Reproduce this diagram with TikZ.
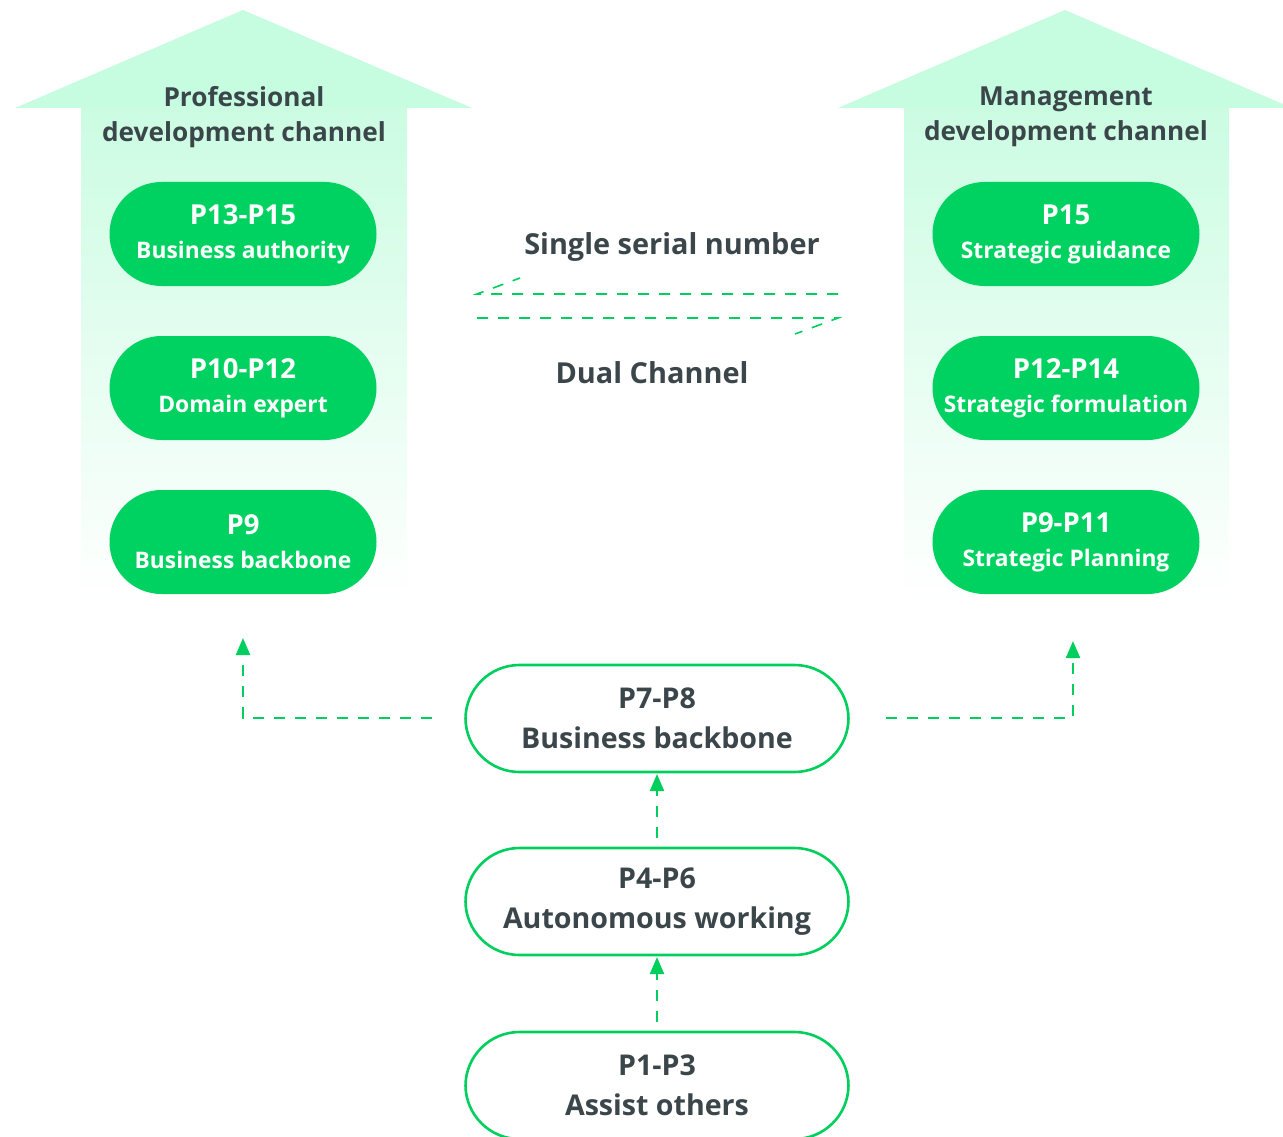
\documentclass[tikz,border=0pt]{standalone}
\usepackage{fontspec}
\setmainfont{Open Sans}
\usetikzlibrary{arrows.meta}
\definecolor{mint}{HTML}{C6FCDF}
\definecolor{mintshaft}{HTML}{CBFCE2}
\definecolor{pillgreen}{HTML}{00D261}
\definecolor{linegreen}{HTML}{00CF5E}
\definecolor{inkgray}{HTML}{3B464B}
\tikzset{
  x=1pt, y=-1pt,
  fillpill/.style={rectangle, rounded corners=52pt, fill=pillgreen, text=white,
    minimum width=267pt, minimum height=104pt, align=center, inner sep=0pt,
    font=\bfseries\fontsize{22.8}{34}\selectfont},
  linepill/.style={rectangle, rounded corners=54pt, draw=linegreen, line width=2.6pt,
    fill=white, text=inkgray, minimum width=383pt, minimum height=107pt,
    align=center, inner sep=0pt, font=\bfseries\fontsize{28.6}{40}\selectfont},
  heading/.style={text=inkgray, align=center, font=\bfseries\fontsize{26.2}{35}\selectfont},
  midlabel/.style={text=inkgray, font=\bfseries\fontsize{28.9}{34}\selectfont},
  flow/.style={draw=linegreen, line width=2.2pt, dash pattern=on 11pt off 10pt,
    -{Triangle[length=17pt,width=14pt]}},
  serial/.style={draw=linegreen, line width=1.6pt, dash pattern=on 11pt off 10pt}
}
% first line of a level box: the grade range, set a little larger
\newcommand{\toplabel}[1]{{\fontsize{27.5}{34}\selectfont #1}}
\begin{document}
\begin{tikzpicture}
\useasboundingbox (0,0) rectangle (1283,1137);

% left channel arrow: solid head, fading shaft
\fill[mint] (15,108) -- (243,10) -- (472,108) -- cycle;
\shade[top color=mintshaft, bottom color=white] (81,107.5) rectangle (407,600);
% right channel arrow
\fill[mint] (838,108) -- (1065,10) -- (1292,108) -- cycle;
\shade[top color=mintshaft, bottom color=white] (904,107.5) rectangle (1229,600);

\node[heading] (hleft) at (244,117) {Professional\\development channel};
\node[heading] (hright) at (1066,117) {Management\\development channel};

% professional channel levels
\node[fillpill] (l1) at (243,234) {\toplabel{P13-P15}\\ Business authority};
\node[fillpill] (l2) at (243,388) {\toplabel{P10-P12}\\ Domain expert};
\node[fillpill] (l3) at (243,542) {\toplabel{P9}\\ Business backbone};

% management channel levels
\node[fillpill] (r1) at (1066,234) {\toplabel{P15}\\ Strategic guidance};
\node[fillpill] (r2) at (1066,388) {\toplabel{P12-P14}\\ Strategic formulation};
\node[fillpill] (r3) at (1066,542) {\toplabel{P9-P11}\\ Strategic Planning};

% shared lower levels
\node[linepill] (b3) at (657,718.5) {P7-P8\\ Business backbone};
\node[linepill] (b2) at (657,901.5) {P4-P6\\ Autonomous working};
\node[linepill] (b1) at (657,1085.5) {P1-P3\\ Assist others};

% middle labels
\node[midlabel] (single) at (672,247) {Single serial number};
\node[midlabel] (dual) at (652,373) {Dual Channel};

% two-way dashed harpoons
\coordinate (sl) at (477,294);
\coordinate (sr) at (838,294);
\coordinate (sb) at (520,278);
\coordinate (dl) at (477,318);
\coordinate (dr) at (838,318);
\coordinate (db) at (795,334);
\draw[serial] (sr) -- (sl) -- (sb);
\draw[serial] (dl) -- (dr) -- (db);

% promotion paths
\coordinate (lc) at (243,718);
\coordinate (rc) at (1073,718);
\coordinate (lt) at (243,638);
\coordinate (rt) at (1073,641);
\coordinate (b3in) at (657,774);
\coordinate (b2in) at (657,957);
\coordinate (b2out) at (657,838);
\coordinate (b1out) at (657,1022);
\draw[flow] ([xshift=-32pt]b3.west |- lc) -- (lc) -- (lt);
\draw[flow] ([xshift=36pt]b3.east |- rc) -- (rc) -- (rt);
\draw[flow] (b2out) -- (b3in);
\draw[flow] (b1out) -- (b2in);
\end{tikzpicture}
\end{document}
